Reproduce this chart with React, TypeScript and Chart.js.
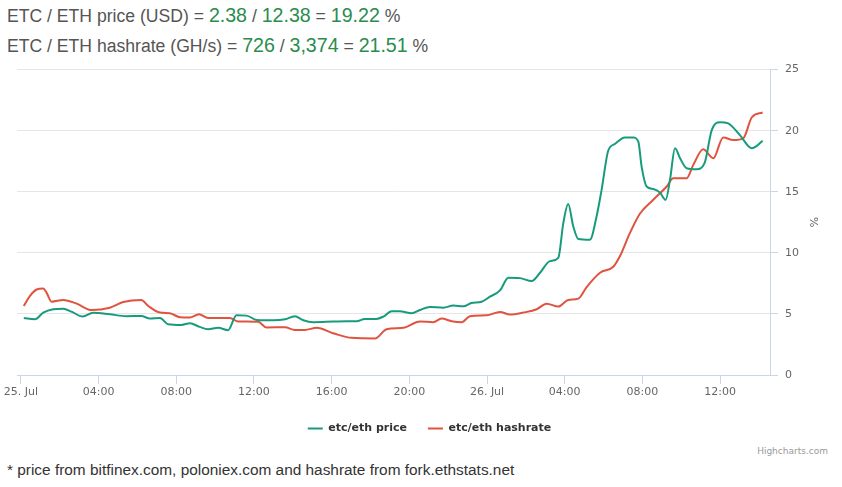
import React, { useEffect, useRef } from "react";
import { Chart, registerables } from "chart.js";

Chart.register(...registerables);

// Hours since 25 Jul 00:00
const priceHours = [0.15, 0.72, 1.15, 1.66, 2.18, 2.6, 3.18, 3.72, 4.58, 5.44, 6.2, 6.64, 7.16, 7.58, 8.27, 8.7, 9.2, 9.64, 10.16, 10.67, 11.1, 11.62, 12.14, 13.0, 13.6, 14.1, 14.54, 15.05, 16.08, 16.77, 17.29, 17.7, 18.3, 18.66, 19.09, 19.5, 20.12, 20.55, 21.06, 21.75, 22.26, 22.78, 23.2, 23.72, 24.15, 24.67, 25.1, 25.7, 26.3, 26.73, 27.24, 27.67, 27.93, 28.18, 28.44, 28.7, 29.3, 29.64, 29.9, 30.24, 30.58, 31.1, 31.53, 31.79, 31.96, 32.22, 32.56, 32.9, 33.2, 33.42, 33.68, 33.94, 34.28, 34.8, 35.2, 35.57, 36.0, 36.42, 37.02, 37.63, 37.88, 38.19];
const priceValues = [4.67, 4.56, 5.1, 5.38, 5.43, 5.19, 4.78, 5.1, 4.97, 4.81, 4.83, 4.62, 4.67, 4.16, 4.1, 4.24, 3.94, 3.75, 3.86, 3.67, 4.89, 4.86, 4.51, 4.48, 4.56, 4.81, 4.48, 4.32, 4.37, 4.4, 4.4, 4.59, 4.59, 4.78, 5.22, 5.22, 5.05, 5.32, 5.57, 5.51, 5.68, 5.62, 5.89, 6.0, 6.41, 6.93, 7.96, 7.93, 7.69, 8.37, 9.32, 9.59, 12.45, 13.99, 12.17, 11.14, 11.08, 12.98, 15.16, 18.36, 18.91, 19.45, 19.45, 19.1, 17.06, 15.43, 15.22, 14.94, 14.34, 15.97, 18.56, 17.74, 16.93, 16.85, 17.34, 20.05, 20.7, 20.6, 19.64, 18.56, 18.74, 19.18];

const hashHours = [0.15, 0.46, 0.81, 1.15, 1.32, 1.58, 2.18, 2.87, 3.64, 4.58, 5.27, 6.2, 6.56, 7.16, 7.67, 8.19, 8.7, 9.17, 9.64, 10.76, 11.19, 12.22, 12.65, 13.6, 14.1, 14.62, 15.23, 16.08, 17.03, 18.23, 18.83, 19.69, 20.55, 21.23, 21.66, 22.18, 22.69, 23.12, 23.98, 24.67, 25.18, 25.87, 26.56, 27.07, 27.67, 28.18, 28.7, 29.13, 29.82, 30.5, 30.84, 31.36, 31.87, 32.56, 33.25, 33.59, 34.28, 34.62, 35.13, 35.65, 36.16, 36.68, 37.19, 37.63, 38.19];
const hashValues = [5.65, 6.46, 7.0, 7.09, 6.74, 6.0, 6.14, 5.84, 5.32, 5.51, 5.97, 6.14, 5.65, 5.11, 5.05, 4.73, 4.7, 4.97, 4.67, 4.67, 4.38, 4.35, 3.89, 3.91, 3.69, 3.69, 3.86, 3.42, 3.04, 2.99, 3.75, 3.86, 4.38, 4.32, 4.62, 4.4, 4.32, 4.81, 4.89, 5.16, 4.95, 5.11, 5.38, 5.84, 5.6, 6.14, 6.25, 7.2, 8.37, 8.86, 9.72, 11.63, 13.2, 14.34, 15.43, 16.11, 16.11, 17.2, 18.48, 17.74, 19.45, 19.23, 19.37, 21.08, 21.49];

const seriesNames = ["etc/eth price", "etc/eth hashrate"];
const seriesColors = ["#189b7c", "#e0533f"];
const xTickHours = [0, 4, 8, 12, 16, 20, 24, 28, 32, 36];
const yTickValues = [0, 5, 10, 15, 20, 25];
const xRange = [-0.2, 38.57];

const priceLine = { label: "ETC / ETH price (USD) = ", a: "2.38", b: "12.38", r: "19.22" };
const hashLine = { label: "ETC / ETH hashrate (GH/s) = ", a: "726", b: "3,374", r: "21.51" };
const footnote = "* price from bitfinex.com, poloniex.com and hashrate from fork.ethstats.net";
const credit = "Highcharts.com";

function formatHour(h: number): string {
  if (h % 24 === 0) return `${25 + h / 24}. Jul`;
  const hh = h % 24;
  return `${hh < 10 ? "0" : ""}${hh}:00`;
}

const GRAY = "#555555";
const GREEN = "#2b8c4e";

function HeaderLine({ info, top }: { info: typeof priceLine; top: number }) {
  const g = { fontSize: 17.6, color: GRAY };
  const n = { fontSize: 19.6, color: GREEN };
  return (
    <div
      style={{
        position: "absolute",
        left: 7,
        top,
        fontFamily: "'Liberation Sans', Arial, sans-serif",
        fontSize: 19.6,
        lineHeight: "22px",
        whiteSpace: "nowrap",
      }}
    >
      <span style={g}>{info.label}</span>
      <span style={n}>{info.a}</span>
      <span style={g}>{" / "}</span>
      <span style={n}>{info.b}</span>
      <span style={g}>{" = "}</span>
      <span style={n}>{info.r}</span>
      <span style={g}>{" %"}</span>
    </div>
  );
}

export default function App() {
  const canvasRef = useRef<HTMLCanvasElement | null>(null);

  useEffect(() => {
    if (!canvasRef.current) return;
    const tickFont = { family: "'DejaVu Sans', sans-serif", size: 11 };
    const chart = new Chart(canvasRef.current, {
      type: "line",
      data: {
        datasets: [
          {
            label: seriesNames[0],
            data: priceHours.map((h, i) => ({ x: h, y: priceValues[i] })),
            borderColor: seriesColors[0],
            backgroundColor: seriesColors[0],
            borderWidth: 2,
            pointRadius: 0,
            cubicInterpolationMode: "monotone",
            fill: false,
          },
          {
            label: seriesNames[1],
            data: hashHours.map((h, i) => ({ x: h, y: hashValues[i] })),
            borderColor: seriesColors[1],
            backgroundColor: seriesColors[1],
            borderWidth: 2,
            pointRadius: 0,
            cubicInterpolationMode: "monotone",
            fill: false,
          },
        ],
      },
      options: {
        animation: false,
        responsive: true,
        maintainAspectRatio: false,
        layout: { padding: { left: 17, top: 13, right: 0, bottom: 0 } },
        plugins: {
          tooltip: { enabled: false },
          legend: {
            position: "bottom",
            labels: {
              usePointStyle: true,
              pointStyle: "line",
              pointStyleWidth: 15,
              padding: 21,
              color: "#333333",
              font: { family: "'DejaVu Sans', sans-serif", size: 11, weight: "bold" },
            },
          },
        },
        scales: {
          x: {
            type: "linear",
            min: xRange[0],
            max: xRange[1],
            afterBuildTicks: (s: any) => {
              s.ticks = xTickHours.map((v) => ({ value: v }));
            },
            afterFit: (s: any) => {
              s.height = 27;
            },
            ticks: {
              autoSkip: false,
              maxRotation: 0,
              padding: 2,
              color: "#666666",
              font: tickFont,
              callback: (v: any) => formatHour(Number(v)),
            },
            grid: {
              drawOnChartArea: false,
              tickLength: 9,
              color: "#ccd6eb",
              tickColor: "#ccd6eb",
            },
            border: { color: "#ccd6eb", width: 1 },
          },
          y: {
            position: "right",
            min: 0,
            max: 25,
            afterBuildTicks: (s: any) => {
              s.ticks = yTickValues.map((v) => ({ value: v }));
            },
            afterFit: (s: any) => {
              s.width = 72;
            },
            ticks: {
              padding: 7,
              color: "#666666",
              font: tickFont,
            },
            grid: {
              color: "#e6e6e6",
              tickColor: "#ccd6eb",
              tickLength: 8,
            },
            border: { color: "#ccd6eb", width: 1 },
            title: {
              display: true,
              text: "%",
              color: "#666666",
              font: tickFont,
              padding: { top: 23, bottom: 0 },
            },
          },
        },
      },
    } as any);
    return () => chart.destroy();
  }, []);

  return (
    <div
      style={{
        position: "absolute",
        left: 0,
        top: 0,
        width: 842,
        height: 487,
        background: "#ffffff",
        overflow: "hidden",
      }}
    >
      <HeaderLine info={priceLine} top={4} />
      <HeaderLine info={hashLine} top={34} />
      <div style={{ position: "absolute", left: 0, top: 56, width: 842, height: 388 }}>
        <canvas ref={canvasRef} />
      </div>
      <div
        style={{
          position: "absolute",
          right: 14,
          top: 446,
          fontFamily: "'DejaVu Sans', sans-serif",
          fontSize: 9,
          color: "#999999",
          whiteSpace: "nowrap",
        }}
      >
        {credit}
      </div>
      <div
        style={{
          position: "absolute",
          left: 7,
          top: 460,
          fontFamily: "'Liberation Sans', Arial, sans-serif",
          fontSize: 15.4,
          lineHeight: "20px",
          color: "#333333",
          whiteSpace: "nowrap",
        }}
      >
        {footnote}
      </div>
    </div>
  );
}
